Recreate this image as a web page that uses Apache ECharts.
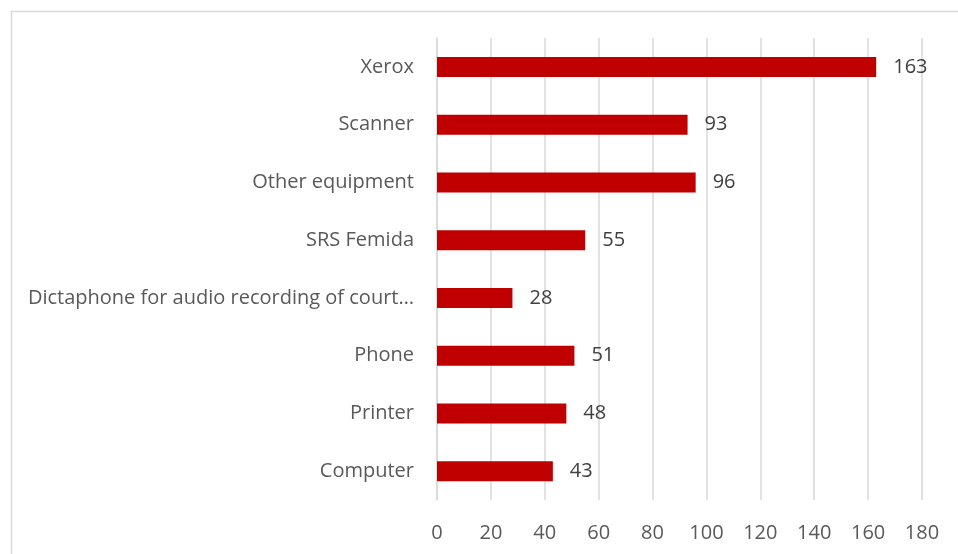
<!DOCTYPE html>
<html>
<head>
<meta charset="utf-8">
<script src="https://cdn.jsdelivr.net/npm/echarts@6/dist/echarts.min.js"></script>
<style>
  html, body { margin: 0; padding: 0; background: #ffffff; }
  #chart { width: 958px; height: 554px; }
</style>
</head>
<body>
<div id="chart"></div>
<script>
// Equipment categories, bottom to top
const categories = [
  'Computer',
  'Printer',
  'Phone',
  'Dictaphone for audio recording of court…',
  'SRS Femida',
  'Other equipment',
  'Scanner',
  'Xerox'
];
const counts = [43, 48, 51, 28, 55, 96, 93, 163];
const xTicks = { min: 0, max: 180, step: 20 };

const FONT = '"Open Sans", sans-serif';

const chart = echarts.init(document.getElementById('chart'), null, { renderer: 'canvas' });
chart.setOption({
  animation: false,
  backgroundColor: '#ffffff',
  graphic: [{
    type: 'rect',
    left: 9, top: 9,
    shape: { width: 970, height: 570 },
    style: { fill: 'none', stroke: '#d9d9d9', lineWidth: 1.5 },
    silent: true
  }],
  grid: { left: 437, right: 36, top: 38, bottom: 54, containLabel: false },
  xAxis: {
    type: 'value',
    min: xTicks.min, max: xTicks.max, interval: xTicks.step,
    axisLine: { show: false },
    axisTick: { show: false },
    axisLabel: { color: '#595959', fontSize: 20, fontFamily: FONT, margin: 23 },
    splitLine: { show: true, lineStyle: { color: '#d9d9d9', width: 1.5 } }
  },
  yAxis: {
    type: 'category',
    data: categories,
    axisLine: { show: true, lineStyle: { color: '#d9d9d9', width: 1.5 } },
    axisTick: { show: false },
    axisLabel: { color: '#595959', fontSize: 20, fontFamily: FONT, margin: 23 }
  },
  series: [{
    type: 'bar',
    data: counts,
    barWidth: 20,
    itemStyle: { color: '#c00000' },
    label: {
      show: true, position: 'right', distance: 17,
      color: '#404040', fontSize: 20, fontFamily: FONT
    }
  }]
});
</script>
</body>
</html>
